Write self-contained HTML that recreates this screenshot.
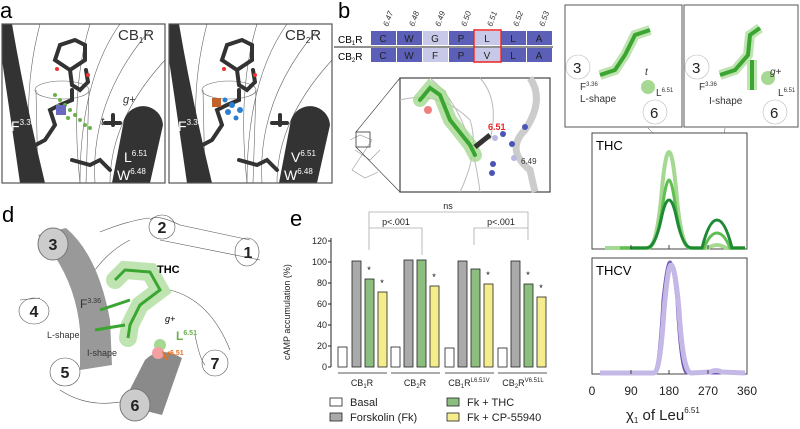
<!DOCTYPE html>
<html><head><meta charset="utf-8"><style>
html,body{margin:0;padding:0;background:#fff}
svg{display:block;font-family:"Liberation Sans",sans-serif}
</style></head><body>
<svg width="800" height="429" viewBox="0 0 800 429" xmlns="http://www.w3.org/2000/svg">
<defs>
<clipPath id="ca"><rect x="2" y="24" width="163" height="159"/></clipPath>
<g id="apan">
  <g clip-path="url(#ca)">
    <rect x="2" y="24" width="163" height="159" fill="#fff"/>
    <g fill="none" stroke="#666" stroke-width="0.6">
      <path d="M40 24 Q20 100 35 183"/><path d="M90 24 Q70 90 80 183"/>
      <path d="M120 24 Q80 80 80 183"/><path d="M150 30 Q90 100 95 183"/>
      <path d="M165 60 Q110 120 110 183"/><ellipse cx="62" cy="90" rx="27" ry="9"/>
      <path d="M36 90 L38 183 M89 90 L86 183"/>
    </g>
    <path d="M2 24 L12 24 Q25 100 45 183 L20 183 Q8 100 2 60Z" fill="#333"/>
    <path d="M112 183 L124 120 A20 20 0 0 1 163 125 L150 183Z" fill="#333"/>
    <g stroke="#333" stroke-width="4" fill="none" stroke-linecap="round">
      <path d="M55 60 L60 45 L75 40 L85 45 L85 60 L70 70 Z M70 70 L72 85 L80 90 L88 82 L86 70"/>
      <path d="M72 90 L72 100 L60 105 L50 110 L55 125 L45 140 L30 148"/>
      <path d="M72 160 L90 165 L100 160 L110 170"/>
      <path d="M105 123 L120 123 M113 115 L113 125"/>
    </g>
    <circle cx="57" cy="69" r="2" fill="#e33"/>
    <circle cx="88" cy="75" r="2" fill="#e33"/>
  </g>
  <rect x="2" y="24" width="163" height="159" fill="none" stroke="#555" stroke-width="1.2"/>
  <text x="11" y="131" font-size="14" fill="#fff">F<tspan font-size="8" dy="-6">3.36</tspan></text>
</g>
</defs>

<!-- panel a -->
<text x="0" y="18" font-size="22">a</text>
<use href="#apan"/>
<g fill="#6ab04c"><circle cx="55" cy="95" r="2"/><circle cx="60" cy="100" r="2"/><circle cx="65" cy="105" r="2"/><circle cx="70" cy="110" r="2"/><circle cx="75" cy="115" r="2"/><circle cx="80" cy="120" r="2"/><circle cx="85" cy="125" r="2"/><circle cx="90" cy="128" r="2"/><circle cx="58" cy="106" r="2"/><circle cx="68" cy="118" r="2"/></g>
<rect x="56" y="105" width="10" height="10" fill="#6a6ac0"/>
<text x="118" y="40" font-size="15" fill="#333">CB<tspan font-size="8" dy="3">1</tspan><tspan dy="-3">R</tspan></text>
<text x="123" y="103" font-size="11" font-style="italic" fill="#333">g+</text>
<text x="101" y="125" font-size="11" font-style="italic" fill="#333">t</text>
<text x="124" y="162" font-size="14" fill="#fff">L<tspan font-size="8" dy="-6">6.51</tspan></text>
<text x="117" y="180" font-size="14" fill="#fff">W<tspan font-size="8" dy="-6">6.48</tspan></text>
<use href="#apan" x="167"/>
<g fill="#2a7fd0"><circle cx="225" cy="100" r="2.5"/><circle cx="232" cy="105" r="3"/><circle cx="240" cy="110" r="3"/><circle cx="228" cy="112" r="3"/><circle cx="236" cy="118" r="2.5"/></g>
<rect x="212" y="98" width="9" height="9" fill="#c0622a"/>
<text x="285" y="40" font-size="15" fill="#333">CB<tspan font-size="8" dy="3">2</tspan><tspan dy="-3">R</tspan></text>
<text x="291" y="162" font-size="14" fill="#fff">V<tspan font-size="8" dy="-6">6.51</tspan></text>
<text x="284" y="180" font-size="14" fill="#fff">W<tspan font-size="8" dy="-6">6.48</tspan></text>

<!-- panel b -->
<text x="338" y="18" font-size="22">b</text>
<g font-size="8" font-style="italic" fill="#333">
<text transform="translate(388,27) rotate(-70)">6.47</text><text transform="translate(414,27) rotate(-70)">6.48</text><text transform="translate(440,27) rotate(-70)">6.49</text><text transform="translate(466,27) rotate(-70)">6.50</text><text transform="translate(492,27) rotate(-70)">6.51</text><text transform="translate(518,27) rotate(-70)">6.52</text><text transform="translate(544,27) rotate(-70)">6.53</text>
</g>
<g fill="#5b5fb8">
<rect x="371" y="31" width="25" height="14"/><rect x="397" y="31" width="25" height="14"/><rect x="449" y="31" width="25" height="14"/><rect x="501" y="31" width="25" height="14"/><rect x="527" y="31" width="25" height="14"/>
<rect x="371" y="48" width="25" height="14"/><rect x="397" y="48" width="25" height="14"/><rect x="449" y="48" width="25" height="14"/><rect x="501" y="48" width="25" height="14"/><rect x="527" y="48" width="25" height="14"/>
</g>
<g fill="#c8c8e8"><rect x="423" y="31" width="25" height="14"/><rect x="475" y="31" width="25" height="14"/><rect x="423" y="48" width="25" height="14"/><rect x="475" y="48" width="25" height="14"/></g>
<line x1="334" y1="47" x2="553" y2="47" stroke="#222" stroke-width="1"/>
<rect x="474" y="30" width="27" height="32" fill="none" stroke="#e22" stroke-width="1.5"/>
<text x="338" y="43" font-size="10">CB<tspan font-size="6" dy="2">1</tspan><tspan dy="-2">R</tspan></text>
<text x="338" y="60" font-size="10">CB<tspan font-size="6" dy="2">2</tspan><tspan dy="-2">R</tspan></text>
<g font-size="10" fill="#222" text-anchor="middle">
<text x="383" y="42">C</text><text x="409" y="42">W</text><text x="435" y="42">G</text><text x="461" y="42">P</text><text x="487" y="42">L</text><text x="513" y="42">L</text><text x="539" y="42">A</text>
<text x="383" y="59">C</text><text x="409" y="59">W</text><text x="435" y="59">F</text><text x="461" y="59">P</text><text x="487" y="59">V</text><text x="513" y="59">L</text><text x="539" y="59">A</text>
</g>
<g stroke="#999" fill="none" stroke-width="0.6"><path d="M350 140 L360 135 L372 140 L362 155 L352 170 L365 178 L378 172"/><path d="M355 150 L370 160 L380 150"/></g>
<rect x="356" y="132" width="14" height="15" fill="none" stroke="#333" stroke-width="0.8"/>
<line x1="356" y1="132" x2="400" y2="78" stroke="#333" stroke-width="0.6"/><line x1="356" y1="147" x2="400" y2="192" stroke="#333" stroke-width="0.6"/>
<rect x="400" y="78" width="150" height="114" fill="#fff" stroke="#444" stroke-width="1.2"/>
<g fill="none" stroke="#bbb" stroke-width="1"><path d="M400 100 Q440 90 470 120 Q480 150 460 192"/><path d="M430 78 Q470 110 480 192"/><path d="M480 78 Q500 100 490 140"/></g>
<path d="M530 78 Q545 100 525 130 Q505 150 530 170 L535 192" fill="none" stroke="#ccc" stroke-width="7"/>
<path d="M420 100 L430 88 L440 95 L450 120 L470 145 L475 155" stroke="#a5d890" stroke-width="14" fill="none" stroke-linecap="round" opacity="0.8"/>
<path d="M420 100 L430 88 L440 95 L450 120 L470 145 L475 155" stroke="#3aa530" stroke-width="4" fill="none" stroke-linecap="round"/>
<circle cx="428" cy="110" r="4" fill="#f08080"/>
<path d="M475 147 L490 135" stroke="#333" stroke-width="5"/>
<text x="488" y="130" font-size="9" font-weight="bold" fill="#e22">6.51</text>
<text x="521" y="164" font-size="8" fill="#333">6.49</text>
<g fill="#4a55b5"><circle cx="525" cy="127" r="3"/><circle cx="503" cy="134" r="3"/><circle cx="512" cy="144" r="3"/><circle cx="493" cy="164" r="3"/><circle cx="492" cy="173" r="3"/></g>
<g fill="#b8b8e0"><circle cx="495" cy="138" r="3"/><circle cx="514" cy="158" r="3"/></g>

<!-- panel c -->
<text x="566" y="18" font-size="22">c</text>
<rect x="565" y="5" width="117" height="122" fill="#fff" stroke="#555"/>
<rect x="684" y="5" width="114" height="122" fill="#fff" stroke="#555"/>
<g fill="none" stroke="#bbb" stroke-width="0.6"><circle cx="578" cy="67" r="12"/><circle cx="655" cy="112" r="12"/><circle cx="697" cy="67" r="12"/><circle cx="775" cy="112" r="12"/></g>
<g font-size="15" fill="#222"><text x="573" y="73">3</text><text x="650" y="118">6</text><text x="692" y="73">3</text><text x="770" y="118">6</text></g>
<path d="M600 75 L615 70 L625 55 L635 35 L650 30" stroke="#a5d890" stroke-width="10" fill="none" opacity="0.7"/>
<path d="M600 75 L615 70 L625 55 L635 35 L650 30" stroke="#3aa530" stroke-width="4" fill="none"/>
<path d="M720 75 L735 70 L748 55 L750 35 L760 28 M752 60 L752 90" stroke="#a5d890" stroke-width="10" fill="none" opacity="0.7"/>
<path d="M720 75 L735 70 L748 55 L750 35 L760 28 M752 60 L752 90" stroke="#3aa530" stroke-width="4" fill="none"/>
<circle cx="648" cy="87" r="7" fill="#a5d890"/><circle cx="768" cy="78" r="7" fill="#a5d890"/>
<g font-size="10" fill="#333"><text x="580" y="90">F<tspan font-size="6" dy="-4">3.36</tspan></text><text x="580" y="102">L-shape</text><text x="645" y="75" font-style="italic">t</text><text x="656" y="96">L<tspan font-size="6" dy="-4">6.51</tspan></text>
<text x="699" y="90">F<tspan font-size="6" dy="-4">3.36</tspan></text><text x="709" y="104">I-shape</text><text x="770" y="75" font-style="italic">g+</text><text x="778" y="96">L<tspan font-size="6" dy="-4">6.51</tspan></text></g>
<line x1="648" y1="128" x2="664" y2="144" stroke="#555" stroke-width="0.5"/><line x1="725" y1="128" x2="717" y2="215" stroke="#555" stroke-width="0.5"/>
<rect x="592" y="133" width="155" height="116" fill="#fff" stroke="#444" stroke-width="1"/>
<rect x="592" y="258" width="155" height="116" fill="#fff" stroke="#444" stroke-width="1"/>
<text x="596" y="150" font-size="13">THC</text>
<text x="596" y="275" font-size="13">THCV</text>
<g fill="none" stroke-width="3">
<path d="M605 248 L648 248 Q656 248 661 200 Q665 152 669 152 Q673 152 677 200 Q682 248 690 248 L708 248 Q713 245 717 245 Q721 245 726 248 L745 248" stroke="#a5d890" stroke-width="4"/>
<path d="M620 248 L648 248 Q656 248 662 210 Q666 180 669 180 Q672 180 676 210 Q682 248 690 248 L704 248 Q710 233 717 233 Q724 233 730 248 L745 248" stroke="#5fbf50"/>
<path d="M630 248 L646 248 Q655 248 661 220 Q665 200 669 200 Q673 200 677 220 Q683 248 692 248 L702 248 Q709 220 717 220 Q725 220 732 248 L745 248" stroke="#1e8a35"/>
<path d="M600 373 L654 373 Q659 373 663 300 Q667 262 670 262 Q673 262 677 300 Q681 373 687 373 L745 373" stroke="#6e55b0"/>
<path d="M600 373 L654 373 Q660 373 664 310 Q668 265 671 265 Q675 265 679 310 Q683 373 691 373 L710 372 Q716 369 722 372 L745 373" stroke="#c4b8e6" stroke-width="5"/>
</g>
<g stroke="#444" stroke-width="1"><line x1="592" y1="249" x2="592" y2="245"/><line x1="631" y1="249" x2="631" y2="245"/><line x1="669" y1="249" x2="669" y2="245"/><line x1="708" y1="249" x2="708" y2="245"/>
<line x1="631" y1="374" x2="631" y2="370"/><line x1="669" y1="374" x2="669" y2="370"/><line x1="708" y1="374" x2="708" y2="370"/></g>
<g font-size="12" text-anchor="middle" fill="#222"><text x="592" y="395">0</text><text x="631" y="395">90</text><text x="669" y="395">180</text><text x="708" y="395">270</text><text x="747" y="395">360</text></g>
<text x="626" y="420" font-size="15" fill="#222">χ<tspan font-size="8" dy="3">1</tspan><tspan dy="-3"> of Leu</tspan><tspan font-size="8" dy="-7">6.51</tspan></text>

<!-- panel d -->
<text x="2" y="222" font-size="22">d</text>
<g fill="none" stroke="#555" stroke-width="0.6">
<path d="M150 220 Q155 213 180 225 L250 240 M160 240 L260 260"/><ellipse cx="247" cy="252" rx="12" ry="14"/>
<ellipse cx="162" cy="227" rx="13" ry="12"/><path d="M100 232 Q130 220 150 218 M95 270 Q110 250 130 240"/>
<ellipse cx="34" cy="311" rx="15" ry="13"/><path d="M20 300 L40 298"/>
<ellipse cx="65" cy="372" rx="15" ry="14"/><path d="M60 390 Q90 410 130 400"/>
<ellipse cx="215" cy="363" rx="13" ry="13"/><path d="M170 290 Q210 300 230 350 M195 335 Q200 360 205 365"/>
</g>
<path d="M38 235 Q75 275 80 330 L80 370 L112 365 L110 320 Q98 255 66 228Z" fill="#999"/>
<ellipse cx="53" cy="244" rx="15" ry="16" fill="#ccc" stroke="#777"/>
<path d="M122 405 L145 360 Q160 345 182 358 L162 415Z" fill="#8a8a8a"/>
<ellipse cx="135" cy="405" rx="15" ry="16" fill="#ccc" stroke="#777"/>
<g font-size="16" font-weight="bold" fill="#222" text-anchor="middle"><text x="53" y="250">3</text><text x="162" y="233">2</text><text x="248" y="258">1</text><text x="34" y="317">4</text><text x="65" y="378">5</text><text x="135" y="411">6</text><text x="215" y="369">7</text></g>
<path d="M115 280 L125 270 L150 272 L160 290 L140 305 L130 325 L128 338" stroke="#a5d890" stroke-width="18" fill="none" stroke-linecap="round" opacity="0.7"/>
<path d="M115 280 L125 270 L150 272 L160 290 L140 305 L130 325 L128 338 M130 300 L100 310 M125 325 L95 330" stroke="#3aa530" stroke-width="3" fill="none"/>
<circle cx="160" cy="345" r="6" fill="#a5d890"/><circle cx="158" cy="353" r="6" fill="#f4a0a0"/>
<text x="157" y="273" font-size="11" font-weight="bold">THC</text>
<text x="80" y="308" font-size="12" fill="#333">F<tspan font-size="7" dy="-5">3.36</tspan></text>
<text x="47" y="338" font-size="9" fill="#333">L-shape</text><text x="87" y="356" font-size="9" fill="#333">I-shape</text>
<text x="165" y="322" font-size="9" font-style="italic">g+</text>
<text x="176" y="340" font-size="12" font-weight="bold" fill="#6ab04c">L<tspan font-size="7" dy="-5">6.51</tspan></text>
<text x="162" y="360" font-size="12" font-weight="bold" fill="#e87020">V<tspan font-size="7" dy="-5">6.51</tspan></text>

<!-- panel e -->
<text x="290" y="226" font-size="22">e</text>
<text transform="translate(290,360) rotate(-90)" font-size="9" fill="#222">cAMP accumulation (%)</text>
<line x1="331" y1="238" x2="331" y2="367" stroke="#222"/>
<g font-size="9" text-anchor="end" fill="#222"><text x="327" y="370">0</text><text x="327" y="349">20</text><text x="327" y="328">40</text><text x="327" y="307">60</text><text x="327" y="286">80</text><text x="327" y="265">100</text><text x="327" y="244">120</text></g>
<g stroke="#222"><line x1="328" y1="367" x2="331" y2="367"/><line x1="328" y1="346" x2="331" y2="346"/><line x1="328" y1="325" x2="331" y2="325"/><line x1="328" y1="304" x2="331" y2="304"/><line x1="328" y1="283" x2="331" y2="283"/><line x1="328" y1="262" x2="331" y2="262"/><line x1="328" y1="241" x2="331" y2="241"/></g>
<g stroke="#222" stroke-width="0.8">
<rect x="338" y="347" width="9" height="20" fill="#fff"/><rect x="352" y="261" width="9" height="106" fill="#aaa"/><rect x="365" y="279" width="9" height="88" fill="#8cbf7f"/><rect x="378" y="292" width="9" height="75" fill="#f5ec8c"/>
<rect x="391" y="347" width="9" height="20" fill="#fff"/><rect x="404" y="260" width="9" height="107" fill="#aaa"/><rect x="417" y="260" width="9" height="107" fill="#8cbf7f"/><rect x="430" y="286" width="9" height="81" fill="#f5ec8c"/>
<rect x="445" y="348" width="9" height="19" fill="#fff"/><rect x="458" y="261" width="9" height="106" fill="#aaa"/><rect x="471" y="269" width="9" height="98" fill="#8cbf7f"/><rect x="484" y="284" width="9" height="83" fill="#f5ec8c"/>
<rect x="498" y="348" width="9" height="19" fill="#fff"/><rect x="511" y="261" width="9" height="106" fill="#aaa"/><rect x="524" y="284" width="9" height="83" fill="#8cbf7f"/><rect x="537" y="297" width="9" height="70" fill="#f5ec8c"/>
</g>
<g font-size="9" text-anchor="middle"><text x="369" y="273">*</text><text x="382" y="286">*</text><text x="434" y="280">*</text><text x="488" y="278">*</text><text x="528" y="278">*</text><text x="541" y="291">*</text></g>
<g fill="none" stroke="#aaa" stroke-width="0.8"><path d="M369 250 L369 212 L528 212 L528 240"/><path d="M369 228 L422 228 L422 255"/><path d="M474 245 L474 228 L528 228"/></g>
<g font-size="9" fill="#222" text-anchor="middle"><text x="448" y="209">ns</text><text x="396" y="225">p&lt;.001</text><text x="501" y="225">p&lt;.001</text></g>
<g stroke="#222" stroke-width="0.8"><line x1="338" y1="373" x2="387" y2="373"/><line x1="391" y1="373" x2="440" y2="373"/><line x1="445" y1="373" x2="494" y2="373"/><line x1="498" y1="373" x2="547" y2="373"/></g>
<g font-size="9" fill="#222" text-anchor="middle"><text x="362" y="386">CB<tspan font-size="6" dy="2">1</tspan><tspan dy="-2">R</tspan></text><text x="415" y="386">CB<tspan font-size="6" dy="2">2</tspan><tspan dy="-2">R</tspan></text><text x="469" y="386">CB<tspan font-size="6" dy="2">1</tspan><tspan dy="-2">R</tspan><tspan font-size="6" dy="-4">L6.51V</tspan></text><text x="523" y="386">CB<tspan font-size="6" dy="2">2</tspan><tspan dy="-2">R</tspan><tspan font-size="6" dy="-4">V6.51L</tspan></text></g>
<g stroke="#222" stroke-width="0.8"><rect x="330" y="398" width="12" height="8" fill="#fff"/><rect x="330" y="413" width="12" height="8" fill="#aaa"/><rect x="447" y="398" width="12" height="8" fill="#8cbf7f"/><rect x="447" y="413" width="12" height="8" fill="#f5ec8c"/></g>
<g font-size="11" fill="#222"><text x="350" y="406">Basal</text><text x="350" y="421">Forskolin (Fk)</text><text x="467" y="406">Fk + THC</text><text x="467" y="421">Fk + CP-55940</text></g>
</svg>
</body></html>
